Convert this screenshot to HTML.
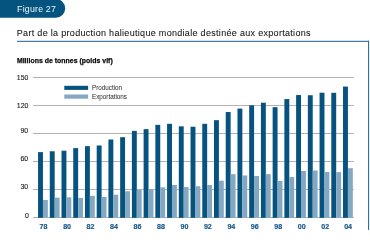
<!DOCTYPE html>
<html><head><meta charset="utf-8">
<style>
html,body{margin:0;padding:0;background:#fff;width:370px;height:230px;overflow:hidden}
svg{position:absolute;left:0;top:0;display:block;will-change:transform}
text{font-family:"Liberation Sans",sans-serif}
</style></head>
<body>
<svg width="370" height="230" viewBox="0 0 370 230">
<rect x="-20" y="-1" width="85.2" height="18.8" rx="9.4" ry="9.4" fill="#04547f"/>
<text x="17.1" y="11.9" font-size="8.8" fill="#f2f6fa" letter-spacing="0.2">Figure 27</text>
<text x="16.8" y="35.7" font-size="9" fill="#141414" stroke="#141414" stroke-width="0.07" letter-spacing="0.307">Part de la production halieutique mondiale destinée aux exportations</text>
<rect x="17" y="40.8" width="352" height="1.1" fill="#336f9c"/>
<rect x="368" y="40.8" width="1.1" height="190" fill="#336f9c"/>
<text x="16.9" y="63.3" font-size="6.9" font-weight="bold" fill="#0a0a0a" stroke="#0a0a0a" stroke-width="0.25" letter-spacing="0.03">Millions de tonnes (poids vif)</text>
<g fill="#b3b2b1"><rect x="33" y="217" width="320.8" height="1"/><rect x="33" y="189" width="320.8" height="1"/><rect x="33" y="161" width="320.8" height="1"/><rect x="33" y="133" width="320.8" height="1"/><rect x="33" y="105" width="320.8" height="1"/><rect x="33" y="77" width="320.8" height="1"/></g>
<g font-size="6.9" fill="#1a1a1a" stroke="#1a1a1a" stroke-width="0.12" text-anchor="end"><text x="28.8" y="217.5">0</text><text x="28.2" y="188.68">30</text><text x="28.2" y="160.66">60</text><text x="28.2" y="132.64">90</text><text x="28.3" y="107.92">120</text><text x="28.3" y="79.9">150</text></g>
<g><rect x="38.05" y="152.11" width="4.9" height="65.69" fill="#06537f"/><rect x="42.95" y="199.93" width="4.9" height="17.87" fill="#84a8c1"/><rect x="49.78" y="151.27" width="4.9" height="66.53" fill="#06537f"/><rect x="54.68" y="197.6" width="4.9" height="20.2" fill="#84a8c1"/><rect x="61.51" y="150.71" width="4.9" height="67.09" fill="#06537f"/><rect x="66.41" y="197.32" width="4.9" height="20.48" fill="#84a8c1"/><rect x="73.24" y="148.1" width="4.9" height="69.7" fill="#06537f"/><rect x="78.14" y="197.88" width="4.9" height="19.92" fill="#84a8c1"/><rect x="84.97" y="146.14" width="4.9" height="71.66" fill="#06537f"/><rect x="89.87" y="195.82" width="4.9" height="21.98" fill="#84a8c1"/><rect x="96.7" y="145.48" width="4.9" height="72.32" fill="#06537f"/><rect x="101.6" y="196.95" width="4.9" height="20.85" fill="#84a8c1"/><rect x="108.43" y="139.5" width="4.9" height="78.3" fill="#06537f"/><rect x="113.33" y="194.7" width="4.9" height="23.1" fill="#84a8c1"/><rect x="120.16" y="137.17" width="4.9" height="80.63" fill="#06537f"/><rect x="125.06" y="191.25" width="4.9" height="26.55" fill="#84a8c1"/><rect x="131.89" y="130.91" width="4.9" height="86.89" fill="#06537f"/><rect x="136.79" y="189.94" width="4.9" height="27.86" fill="#84a8c1"/><rect x="143.62" y="129.14" width="4.9" height="88.66" fill="#06537f"/><rect x="148.52" y="189.1" width="4.9" height="28.7" fill="#84a8c1"/><rect x="155.35" y="124.84" width="4.9" height="92.96" fill="#06537f"/><rect x="160.25" y="187.33" width="4.9" height="30.47" fill="#84a8c1"/><rect x="167.08" y="123.81" width="4.9" height="93.99" fill="#06537f"/><rect x="171.98" y="184.99" width="4.9" height="32.81" fill="#84a8c1"/><rect x="178.81" y="126.33" width="4.9" height="91.47" fill="#06537f"/><rect x="183.71" y="187.05" width="4.9" height="30.75" fill="#84a8c1"/><rect x="190.54" y="126.71" width="4.9" height="91.09" fill="#06537f"/><rect x="195.44" y="186.2" width="4.9" height="31.6" fill="#84a8c1"/><rect x="202.27" y="123.81" width="4.9" height="93.99" fill="#06537f"/><rect x="207.17" y="184.99" width="4.9" height="32.81" fill="#84a8c1"/><rect x="214" y="120.17" width="4.9" height="97.63" fill="#06537f"/><rect x="218.9" y="180.69" width="4.9" height="37.11" fill="#84a8c1"/><rect x="225.73" y="112.04" width="4.9" height="105.76" fill="#06537f"/><rect x="230.63" y="174.16" width="4.9" height="43.64" fill="#84a8c1"/><rect x="237.46" y="108.59" width="4.9" height="109.21" fill="#06537f"/><rect x="242.36" y="175.46" width="4.9" height="42.34" fill="#84a8c1"/><rect x="249.19" y="105.32" width="4.9" height="112.48" fill="#06537f"/><rect x="254.09" y="176.02" width="4.9" height="41.78" fill="#84a8c1"/><rect x="260.92" y="102.7" width="4.9" height="115.1" fill="#06537f"/><rect x="265.82" y="174.16" width="4.9" height="43.64" fill="#84a8c1"/><rect x="272.65" y="107.19" width="4.9" height="110.61" fill="#06537f"/><rect x="277.55" y="180.97" width="4.9" height="36.83" fill="#84a8c1"/><rect x="284.38" y="99.06" width="4.9" height="118.74" fill="#06537f"/><rect x="289.28" y="176.96" width="4.9" height="40.84" fill="#84a8c1"/><rect x="296.11" y="95.05" width="4.9" height="122.75" fill="#06537f"/><rect x="301.01" y="170.98" width="4.9" height="46.82" fill="#84a8c1"/><rect x="307.84" y="95.23" width="4.9" height="122.57" fill="#06537f"/><rect x="312.74" y="170.51" width="4.9" height="47.29" fill="#84a8c1"/><rect x="319.57" y="92.71" width="4.9" height="125.09" fill="#06537f"/><rect x="324.47" y="172.01" width="4.9" height="45.79" fill="#84a8c1"/><rect x="331.3" y="92.8" width="4.9" height="125" fill="#06537f"/><rect x="336.2" y="172.1" width="4.9" height="45.7" fill="#84a8c1"/><rect x="343.03" y="86.55" width="4.9" height="131.25" fill="#06537f"/><rect x="347.93" y="168.18" width="4.9" height="49.62" fill="#84a8c1"/></g>
<g font-size="7.1" font-weight="bold" fill="#185a8c" stroke="#185a8c" stroke-width="0.2" text-anchor="middle"><text x="43.45" y="228.6">78</text><text x="67.11" y="228.6">80</text><text x="90.57" y="228.6">82</text><text x="114.03" y="228.6">84</text><text x="137.49" y="228.6">86</text><text x="160.95" y="228.6">88</text><text x="184.41" y="228.6">90</text><text x="207.87" y="228.6">92</text><text x="231.33" y="228.6">94</text><text x="254.79" y="228.6">96</text><text x="278.25" y="228.6">98</text><text x="301.71" y="228.6">00</text><text x="325.17" y="228.6">02</text><text x="348.13" y="228.6">04</text></g>
<rect x="64.3" y="85.8" width="23.8" height="4.1" fill="#06537f"/>
<rect x="64.3" y="94.5" width="23.8" height="4.2" fill="#84a8c1"/>
<text x="92" y="90.1" font-size="6.3" fill="#1e1e1e">Production</text>
<text x="92" y="99.3" font-size="6.3" fill="#1e1e1e">Exportations</text>
</svg>
</body></html>
